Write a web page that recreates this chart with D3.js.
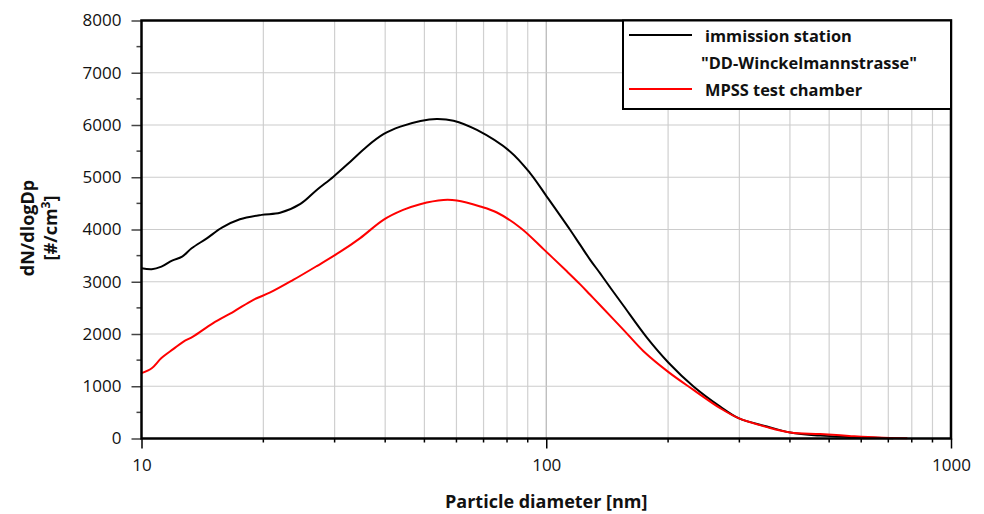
<!DOCTYPE html>
<html>
<head>
<meta charset="utf-8">
<script src="https://cdn.jsdelivr.net/npm/d3@7"></script>
<style>
  body { margin: 0; background: #fff; }
  text { font-family: "Open Sans", sans-serif; fill: #111; }
  .bold { font-weight: bold; }
</style>
</head>
<body>
<script>
// immission station "DD-Winckelmannstrasse"
var stationDiameter = [10, 10.6, 11.2, 11.9, 12.6, 13.3, 14.5, 15.8, 17.5, 19.8, 22.0, 24.7, 27.1, 29.8,
    32.8, 36.0, 39.7, 43.6, 48.9, 53.6, 59.0, 67.4, 81.5, 91.3, 100.3, 114.6, 121.3, 128.4, 135.9, 143.9,
    155.2, 177.3, 200.5, 231.1, 269, 298.5, 351, 400.7, 475, 560, 650, 720];
var stationValue = [3260, 3240, 3290, 3405, 3480, 3640, 3830, 4035, 4195, 4280, 4320, 4489, 4757, 5011,
    5298, 5585, 5828, 5968, 6077, 6115, 6083, 5905, 5490, 5075, 4630, 3990, 3705, 3420, 3160, 2890,
    2540, 1930, 1450, 995, 610, 390, 230, 115, 55, 28, 12, 5];

// MPSS test chamber
var chamberDiameter = [10, 10.6, 11.2, 12.0, 12.7, 13.4, 15.0, 16.9, 18.9, 20.8, 23.7, 27.1, 31.0, 34.7,
    39.6, 44.3, 48.8, 55.7, 60.1, 68.7, 75.5, 86.6, 98.9, 112.6, 121.3, 128.4, 135.9, 155.2, 173.9,
    200.5, 231.1, 269, 298.5, 351, 400.7, 475, 560, 660, 780];
var chamberValue = [1250, 1345, 1540, 1715, 1855, 1950, 2205, 2430, 2655, 2795, 3035, 3300, 3575, 3835,
    4185, 4375, 4485, 4565, 4555, 4440, 4325, 4025, 3610, 3195, 2950, 2750, 2550, 2080, 1670,
    1270, 930, 580, 390, 218, 115, 85, 50, 20, 5];

var xTickValues = [10, 100, 1000];
var yTickValues = [0, 1000, 2000, 3000, 4000, 5000, 6000, 7000, 8000];
var legendLabels = [["immission station", "\"DD-Winckelmannstrasse\""], ["MPSS test chamber"]];
var seriesColors = ["#000000", "#ff0000"];

var width = 984, height = 514;
var margin = {left: 141.5, right: 33, top: 20.5, bottom: 75.5};
var plotW = width - margin.left - margin.right;
var plotH = height - margin.top - margin.bottom;

var svg = d3.select("body").append("svg")
    .attr("width", width)
    .attr("height", height);

var g = svg.append("g")
    .attr("transform", "translate(" + margin.left + "," + margin.top + ")");

var xScale = d3.scaleLog().domain([10, 1000]).range([0, plotW]);
var yScale = d3.scaleLinear().domain([0, 8000]).range([plotH, 0]);

// minor log values for grid and small ticks
var minorX = [];
[10, 100].forEach(function(base){
    for (var k = 2; k <= 9; k++) minorX.push(base * k);
});
var minorY = d3.range(500, 8000, 1000);

// grid
g.append("g").selectAll("line")
    .data(minorX.concat([100]))
    .enter().append("line")
    .attr("x1", function(d){ return xScale(d); })
    .attr("x2", function(d){ return xScale(d); })
    .attr("y1", 0).attr("y2", plotH)
    .attr("stroke", function(d){ return d === 100 ? "#b4b4b4" : "#d0d0d0"; })
    .attr("stroke-width", 1.2);

g.append("g").selectAll("line")
    .data(yTickValues.slice(1, -1))
    .enter().append("line")
    .attr("x1", 0).attr("x2", plotW)
    .attr("y1", function(d){ return yScale(d); })
    .attr("y2", function(d){ return yScale(d); })
    .attr("stroke", "#cccccc")
    .attr("stroke-width", 1.2);

// axes
var xAxis = g.append("g")
    .attr("transform", "translate(0," + plotH + ")")
    .call(d3.axisBottom(xScale).tickValues(xTickValues).tickFormat(d3.format("d"))
        .tickSize(10).tickPadding(10));
xAxis.select(".domain").remove();
xAxis.selectAll("text").attr("font-size", 17).attr("font-family", "Open Sans");
xAxis.selectAll("line").attr("stroke-width", 1.5);

g.append("g")
    .attr("transform", "translate(0," + plotH + ")")
    .selectAll("line")
    .data(minorX)
    .enter().append("line")
    .attr("x1", function(d){ return xScale(d); })
    .attr("x2", function(d){ return xScale(d); })
    .attr("y1", 0).attr("y2", 4)
    .attr("stroke", "#000").attr("stroke-width", 1.5);

var yAxis = g.append("g")
    .call(d3.axisLeft(yScale).tickValues(yTickValues).tickFormat(d3.format("d"))
        .tickSize(10).tickPadding(10));
yAxis.select(".domain").remove();
yAxis.selectAll("text").attr("font-size", 17).attr("font-family", "Open Sans");
yAxis.selectAll("line").attr("stroke-width", 1.5).attr("stroke", "#444");

g.append("g").selectAll("line")
    .data(minorY)
    .enter().append("line")
    .attr("x1", -5).attr("x2", 0)
    .attr("y1", function(d){ return yScale(d); })
    .attr("y2", function(d){ return yScale(d); })
    .attr("stroke", "#444").attr("stroke-width", 1.5);

// series
var line = d3.line()
    .x(function(d){ return xScale(d[0]); })
    .y(function(d){ return yScale(d[1]); })
    .curve(d3.curveCatmullRom.alpha(0.5));

var series = [
    d3.zip(stationDiameter, stationValue),
    d3.zip(chamberDiameter, chamberValue)
];

g.append("g").selectAll("path")
    .data(series)
    .enter().append("path")
    .attr("d", line)
    .attr("fill", "none")
    .attr("stroke", function(d, i){ return seriesColors[i]; })
    .attr("stroke-width", 2);

// frame
g.append("rect")
    .attr("x", 0).attr("y", 0)
    .attr("width", plotW).attr("height", plotH)
    .attr("fill", "none")
    .attr("stroke", "#000")
    .attr("stroke-width", 2.5);

// legend
var legend = g.append("g")
    .attr("transform", "translate(" + (plotW - 328) + ",0)");
legend.append("rect")
    .attr("width", 328).attr("height", 88.5)
    .attr("fill", "#fff")
    .attr("stroke", "#000")
    .attr("stroke-width", 2);

var legendRows = [14.5, 68.5];
legendLabels.forEach(function(lines, i){
    legend.append("line")
        .attr("x1", 6).attr("x2", 69)
        .attr("y1", legendRows[i]).attr("y2", legendRows[i])
        .attr("stroke", seriesColors[i]).attr("stroke-width", 2);
    lines.forEach(function(t, j){
        legend.append("text")
            .attr("class", "bold")
            .attr("x", j === 0 ? 82 : 78)
            .attr("y", legendRows[i] + 7 + j * 26.5)
            .attr("font-size", 16.4)
            .text(t);
    });
});

// axis titles
svg.append("text")
    .attr("class", "bold")
    .attr("x", margin.left + plotW / 2)
    .attr("y", 508)
    .attr("text-anchor", "middle")
    .attr("font-size", 18)
    .text("Particle diameter [nm]");

var yt = svg.append("text")
    .attr("class", "bold")
    .attr("text-anchor", "middle")
    .attr("font-size", 18)
    .attr("transform", "translate(34,228) rotate(-90)");
yt.append("tspan").attr("x", 0).attr("y", 0).text("dN/dlogDp");
yt.append("tspan").attr("x", 0).attr("y", 23).text("[#/cm");
yt.append("tspan").attr("dy", -7).attr("font-size", 12).text("3");
yt.append("tspan").attr("dy", 7).text("]");
</script>
</body>
</html>
